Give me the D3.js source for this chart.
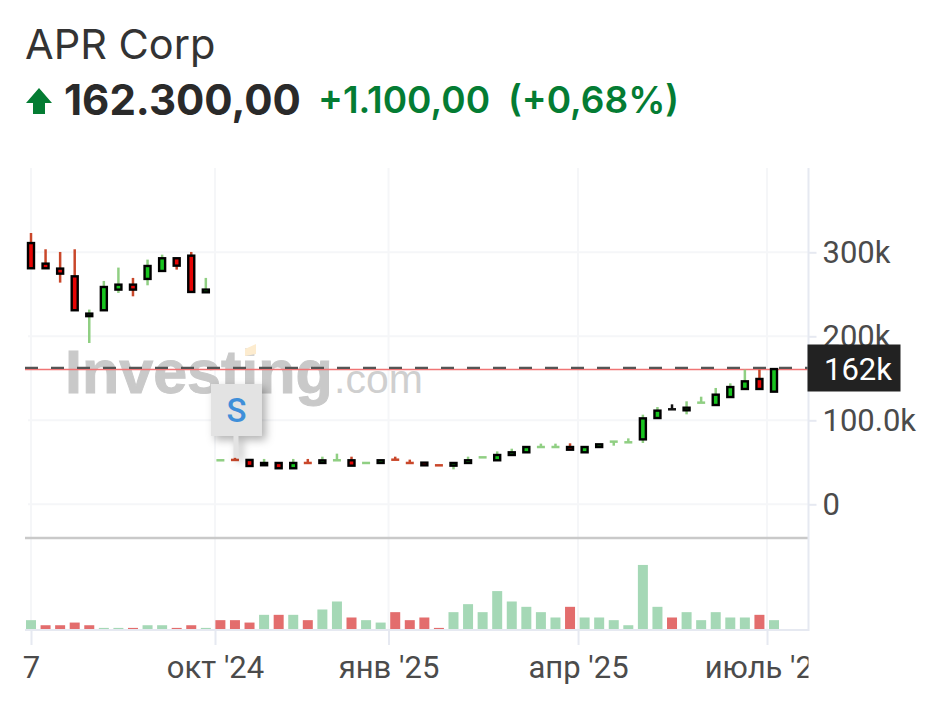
<!DOCTYPE html>
<html>
<head>
<meta charset="utf-8">
<script src="https://cdn.jsdelivr.net/npm/d3@7"></script>
<style>
    html, body { margin: 0; padding: 0; background: #fff; }
    svg { display: block; }
    .axis text { font-family: Roboto, sans-serif; font-size: 31px; fill: #4b4b4b; }
    .axis line { stroke: #e6e9f1; stroke-width: 2; }
    .axis path { display: none; }
</style>
</head>
<body>
<svg id="chart" width="927" height="727"></svg>
<script>
// prices in thousands, one candle per week
const opens = [311,286.5,280.6,271.4,224,231,255.6,261.5,268.3,277.8,292.9,296,252.4,
    52.4,52.8,52.8,46.5,49.2,42.9,49.2,49.2,52.4,52.4,49.2,49.2,53.1,49.2,49.6,46.4,46,49.2,55.9,
    52.4,58.7,61.9,68.2,68.2,68.2,61.9,68.2,74.6,73.8,77.3,102.7,113.1,111.9,121,118.2,127.7,137.3,149.2,134.1];
const highs = [323,303.6,300.4,303.6,231.8,265.9,281.8,269.5,291.3,297.2,292.9,300.4,269.5,
    52.4,55.6,52.8,54,49.2,54,54,56.7,60.3,56.7,49.2,52.4,56.7,53.2,49.6,46.4,49.2,56.7,55.9,
    63,66.2,68.2,72.2,72.2,72.6,68.2,71.4,74.6,78.5,106.7,115.8,119,122.6,128.1,138.5,144,160.3,160.3,161];
const lows = [281,281,263.9,231,192,231,251.6,247.6,260.7,277.8,279.4,252.8,252.4,
    52.4,52.8,45.6,46.5,42.9,42.9,49.2,49.2,52.4,46,49.2,49.2,53.1,49.2,46.4,46.4,41.6,49.2,55.9,
    52.4,58.7,61.9,68.2,68.2,65,61.9,68.2,69.8,73.8,73,102.7,113.1,107.1,121,118.2,127.7,137.3,137.3,134.1];
const closes = [281,281,274.6,231,227,258.7,261.5,255.6,283.7,292.9,284.1,252.8,255.6,
    52.4,52.8,45.6,49.2,42.9,49.2,49.2,52.3,52.4,46,49.2,52.4,53.1,49.2,46.4,46.4,49.2,52.4,55.9,
    58.7,61.9,68.2,68.2,68.2,65,68.2,71.4,74.6,73.8,102.3,111.5,113.1,115,121,130.5,139.6,146.4,137.3,161];
const candleDir = ['d','d','d','d','u','u','u','d','u','u','d','d','u',
    'u','d','d','u','d','u','d','u','u','d','u','u','d','d','d','d','u','u','u',
    'u','u','u','u','u','d','u','u','u','u','u','u','n','u','u','u','u','u','d','u'];

const volumes = [3.5,1.6,1.6,2.6,1.6,0.6,0.6,0.6,1.6,1.6,0.6,1.6,0.6,
    3.5,3.5,2.6,5.5,5.5,5.5,3.5,7.5,10.5,4.5,3.5,2.6,6.5,3.5,4.5,0.6,6.5,9.5,6.5,
    14.4,10.5,8.5,6.5,4.5,8.5,4.5,4.5,3.5,1.6,24.2,8.5,4.5,6.5,3.5,6.5,4.5,4.5,5.5,3.5];
const volumeDir = ['u','d','d','d','d','u','u','d','u','u','d','d','u',
    'd','d','d','u','d','u','d','u','u','d','u','u','d','d','d','d','u','u','u',
    'u','u','u','u','u','d','u','u','u','u','u','u','d','u','u','u','u','u','d','u'];

const priceTicks = [0, 100, 200, 300];
const priceLabels = ['0', '100.0k', '200k', '300k'];
const timeTicks = [0, 12.63, 24.54, 37.55, 50.52];   // fractional candle positions
const timeLabels = ['7', "окт '24", "янв '25", "апр '25", "июль '24"];

const lastPrice = 162.3;
const refPrice = 160.5;
const flagCandle = 14;

const upFill = '#18c41f', downFill = '#e60505';
const upWick = '#90cf83', downWick = '#c9472a';
const upVol = '#a5d8b6', downVol = '#e36d6d';
const textGreen = '#047c33';

const plotLeft = 25, plotRight = 808.5, plotTop = 168, plotSep = 538, plotBottom = 630;

const svg = d3.select('#chart');

svg.append('defs').append('clipPath').attr('id', 'plot-clip')
    .append('rect').attr('x', 0).attr('y', 0).attr('width', plotRight).attr('height', 727);

const x = d3.scaleLinear().domain([0, 51]).range([31, 774]);
const y = d3.scaleLinear().domain([0, 400]).range([504.3, 168.3]);
const v = d3.scaleLinear().domain([0, 34]).range([629.5, 538.8]);

// Header
svg.append('text').attr('x', 25).attr('y', 59)
    .attr('font-family', 'Inter').attr('font-size', 41.5).attr('fill', '#333').text('APR Corp');

svg.append('path').attr('d', 'M39,88 L52,103 L45,103 L45,114 L33,114 L33,103 L26,103 Z').attr('fill', textGreen);
svg.append('text').attr('x', 64).attr('y', 115)
    .attr('font-family', 'Inter').attr('font-weight', 700).attr('font-size', 42).attr('fill', '#2a2a2a').text('162.300,00');
svg.append('text').attr('x', 318).attr('y', 113)
    .attr('font-family', 'Inter').attr('font-weight', 600).attr('font-size', 37).attr('fill', textGreen).text('+1.100,00');
svg.append('text').attr('x', 508).attr('y', 113)
    .attr('font-family', 'Inter').attr('font-weight', 600).attr('font-size', 37).attr('fill', textGreen).text('(+0,68%)');

// Grid
const grid = svg.append('g').attr('stroke', '#f5f6f8').attr('stroke-width', 2);
grid.selectAll('.gy').data(priceTicks).enter().append('line')
    .attr('x1', 28).attr('x2', plotRight)
    .attr('y1', d => y(d)).attr('y2', d => y(d));
grid.selectAll('.gx').data(timeTicks).enter().append('line')
    .attr('x1', d => x(d)).attr('x2', d => x(d))
    .attr('y1', plotTop).attr('y2', plotBottom);

// Watermark
const mark = svg.append('g');
mark.append('text').attr('x', 65).attr('y', 393)
    .attr('font-family', 'Liberation Sans').attr('font-weight', 700).attr('font-size', 61)
    .attr('fill', '#c9c9c9').attr('stroke', '#c9c9c9').attr('stroke-width', 1).text('Investing');
mark.append('path').attr('d', 'M245,349 L256,344 L256,354 L245,356 Z').attr('fill', '#fdeccf');
mark.append('text').attr('x', 334).attr('y', 393)
    .attr('font-family', 'Liberation Sans').attr('font-size', 41)
    .attr('fill', '#cfcfcf').text('.com');

// Price lines
svg.append('line').attr('x1', plotLeft).attr('x2', plotRight)
    .attr('y1', y(refPrice)).attr('y2', y(refPrice))
    .attr('stroke', '#f07575').attr('stroke-width', 1.6);
svg.append('line').attr('x1', plotLeft).attr('x2', plotRight)
    .attr('y1', y(lastPrice)).attr('y2', y(lastPrice))
    .attr('stroke', '#555').attr('stroke-width', 2.2).attr('stroke-dasharray', '13 13');

// Candles
const candles = svg.append('g');
const idx = d3.range(opens.length);
const wickColor = i => candleDir[i] === 'n' ? '#111' : candleDir[i] === 'u' ? upWick : downWick;

candles.selectAll('.wick').data(idx).enter().append('line')
    .attr('x1', i => x(i)).attr('x2', i => x(i))
    .attr('y1', i => y(highs[i])).attr('y2', i => y(lows[i]))
    .attr('stroke', wickColor).attr('stroke-width', 2.5);

// open == close is only a short dash in the wick colour
candles.selectAll('.dash').data(idx.filter(i => opens[i] === closes[i])).enter().append('line')
    .attr('x1', i => x(i) - 4).attr('x2', i => x(i) + 4)
    .attr('y1', i => y(opens[i])).attr('y2', i => y(opens[i]))
    .attr('stroke', wickColor).attr('stroke-width', 2.5);

candles.selectAll('.body').data(idx.filter(i => opens[i] !== closes[i])).enter().append('rect')
    .attr('x', i => x(i) - 3)
    .attr('width', 6)
    .attr('y', i => y(Math.max(opens[i], closes[i])))
    .attr('height', i => Math.abs(y(opens[i]) - y(closes[i])))
    .attr('fill', i => candleDir[i] === 'u' ? upFill : downFill)
    .attr('stroke', '#000').attr('stroke-width', 2.4);

// Signal flag
const flagX = x(flagCandle);
const flag = svg.append('g').style('filter', 'drop-shadow(4px 4px 4px rgba(0,0,0,0.3))');
flag.append('line').attr('x1', flagX + 1).attr('x2', flagX + 1)
    .attr('y1', 436).attr('y2', y(highs[flagCandle]))
    .attr('stroke', '#e3e3e3').attr('stroke-width', 5);
flag.append('rect').attr('x', flagX - 24).attr('y', 384).attr('width', 51).attr('height', 52)
    .attr('fill', '#e3e3e3');
svg.append('text').attr('x', flagX + 1.5).attr('y', 422).attr('text-anchor', 'middle')
    .attr('font-family', 'Roboto').attr('font-weight', 500).attr('font-size', 33)
    .attr('fill', '#3f8fd9').text('S');

// Volume
svg.append('g').selectAll('rect').data(idx).enter().append('rect')
    .attr('x', i => x(i) - 5)
    .attr('width', 10)
    .attr('y', i => v(volumes[i]))
    .attr('height', i => v(0) - v(volumes[i]))
    .attr('fill', i => volumeDir[i] === 'u' ? upVol : downVol);

// Panel borders
svg.append('line').attr('x1', plotLeft).attr('x2', plotRight).attr('y1', plotSep).attr('y2', plotSep)
    .attr('stroke', '#c9c9c9').attr('stroke-width', 2.5);
svg.append('line').attr('x1', plotLeft).attr('x2', plotRight).attr('y1', plotBottom).attr('y2', plotBottom)
    .attr('stroke', '#e6e9f1').attr('stroke-width', 2);
svg.append('line').attr('x1', plotRight).attr('x2', plotRight).attr('y1', plotTop).attr('y2', plotBottom + 1)
    .attr('stroke', '#e6e9f1').attr('stroke-width', 2);

// Axes
const yAxis = d3.axisRight(y)
    .tickValues(priceTicks)
    .tickFormat((d, i) => priceLabels[i])
    .tickSize(8).tickPadding(6);
svg.append('g').attr('class', 'axis').attr('transform', `translate(${plotRight},0)`).call(yAxis);

const xAxis = d3.axisBottom(x)
    .tickValues(timeTicks)
    .tickFormat((d, i) => timeLabels[i])
    .tickSize(15).tickPadding(11);
svg.append('g').attr('class', 'axis').attr('clip-path', 'url(#plot-clip)')
    .attr('transform', `translate(0,${plotBottom})`).call(xAxis);

// Last price label
svg.append('rect').attr('x', 807.5).attr('y', 344.5).attr('width', 93).attr('height', 47).attr('fill', '#222');
svg.append('text').attr('x', 858).attr('y', 380).attr('text-anchor', 'middle')
    .attr('font-family', 'Roboto').attr('font-size', 31).attr('fill', '#fff').text('162k');
</script>
</body>
</html>
